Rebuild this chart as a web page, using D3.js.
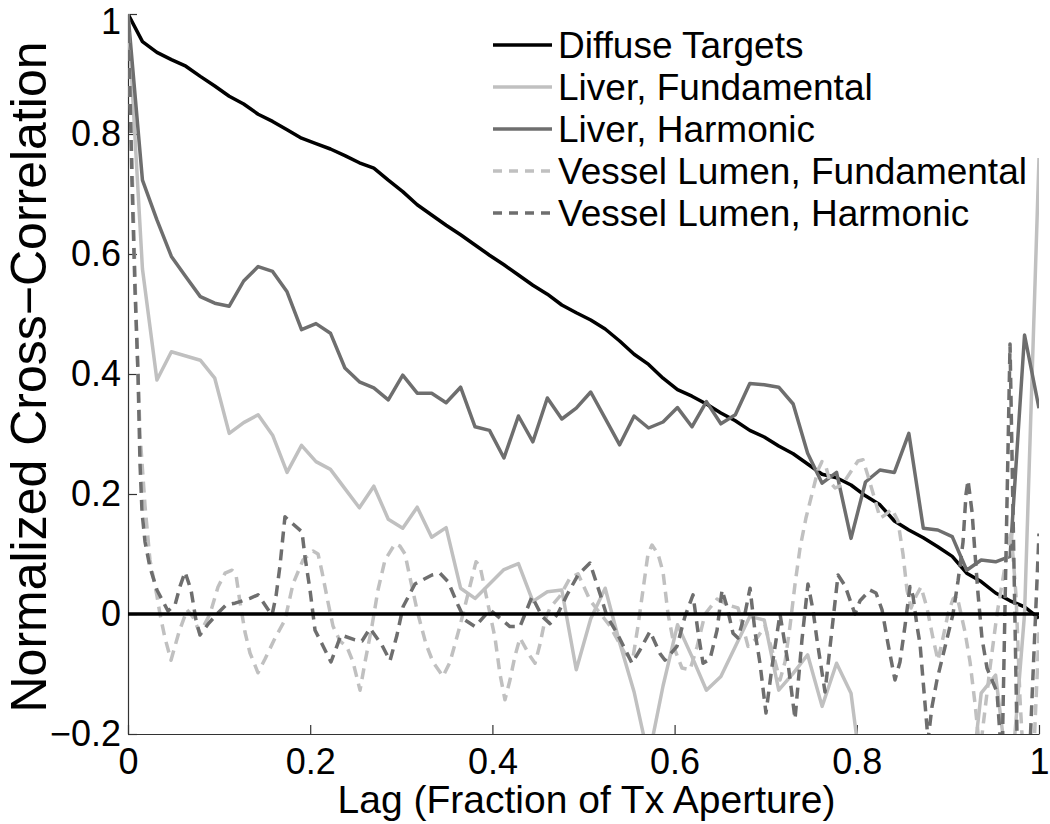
<!DOCTYPE html>
<html>
<head>
<meta charset="utf-8">
<script src="https://cdn.jsdelivr.net/npm/d3@7"></script>
<style>
  body { margin: 0; background: #fff; }
  text { font-family: "Liberation Sans", Arial, sans-serif; }
</style>
</head>
<body>
<script>
//////////data
const seriesNames = ["Diffuse Targets", "Liver, Fundamental", "Liver, Harmonic",
                     "Vessel Lumen, Fundamental", "Vessel Lumen, Harmonic"];
const xTicks = [0, 0.2, 0.4, 0.6, 0.8, 1];
const yTicks = [-0.2, 0, 0.2, 0.4, 0.6, 0.8, 1];

// 64 element lags, 0..63 / 63
const lags = d3.range(64).map(i => i / 63);

const diffuse = [1.0, 0.954, 0.936, 0.924, 0.913, 0.896, 0.88, 0.863, 0.85, 0.833,
  0.821, 0.807, 0.793, 0.784, 0.775, 0.764, 0.752, 0.743, 0.723, 0.704,
  0.682, 0.665, 0.648, 0.632, 0.615, 0.598, 0.582, 0.565, 0.548, 0.533,
  0.515, 0.502, 0.49, 0.475, 0.455, 0.433, 0.416, 0.393, 0.374, 0.363,
  0.35, 0.335, 0.322, 0.306, 0.295, 0.28, 0.267, 0.25, 0.233, 0.227,
  0.215, 0.197, 0.182, 0.155, 0.14, 0.127, 0.112, 0.096, 0.068, 0.054,
  0.035, 0.022, 0.012, -0.007];

const liverFund = [1.0, 0.575, 0.39, 0.437, 0.43, 0.423, 0.393, 0.301, 0.319, 0.332,
  0.298, 0.236, 0.281, 0.254, 0.241, 0.209, 0.177, 0.213, 0.158, 0.143,
  0.178, 0.128, 0.144, 0.043, 0.026, 0.05, 0.074, 0.084, 0.021, 0.037,
  0.04, -0.093, -0.008, 0.043, -0.048, -0.13, -0.24, -0.12, -0.018, -0.071,
  -0.127, -0.104, -0.054, -0.004, -0.01, -0.127, -0.099, -0.068, -0.154, -0.082,
  -0.132, -0.32, -0.26, -0.21, -0.3, -0.35, -0.3, -0.28, -0.35, -0.132,
  -0.102, -0.3, 0.0, 0.76];

const liverHarm = [1.0, 0.723, 0.657, 0.596, 0.562, 0.529, 0.518, 0.513, 0.555, 0.579,
  0.571, 0.537, 0.474, 0.484, 0.468, 0.41, 0.387, 0.377, 0.357, 0.398,
  0.368, 0.368, 0.352, 0.378, 0.312, 0.306, 0.26, 0.33, 0.287, 0.36,
  0.325, 0.343, 0.37, 0.326, 0.282, 0.33, 0.31, 0.32, 0.344, 0.312,
  0.354, 0.317, 0.332, 0.384, 0.382, 0.378, 0.35, 0.268, 0.218, 0.236,
  0.126, 0.22, 0.24, 0.236, 0.301, 0.143, 0.14, 0.129, 0.073, 0.09,
  0.087, 0.096, 0.465, 0.343];

// vessel lumen curves are sampled finer, read as (lag, value) vertices
const vlFundLag = [0, 0.0044, 0.0088, 0.0132, 0.0187, 0.0241, 0.0318, 0.0351, 0.0406, 0.0472,
  0.056, 0.0648, 0.0713, 0.079, 0.09, 0.0988, 0.1065, 0.1142, 0.1186, 0.1229,
  0.1284, 0.1339, 0.1427, 0.1504, 0.1614, 0.1723, 0.1811, 0.1921, 0.2031, 0.2086,
  0.213, 0.2195, 0.225, 0.2327, 0.2404, 0.247, 0.2547, 0.2602, 0.2678, 0.2744,
  0.2821, 0.2931, 0.2986, 0.3041, 0.3096, 0.3183, 0.3271, 0.3348, 0.3458, 0.3535,
  0.3644, 0.371, 0.3776, 0.382, 0.3864, 0.3919, 0.3974, 0.4029, 0.4083, 0.4138,
  0.4193, 0.4248, 0.4303, 0.4413, 0.4468, 0.4523, 0.4577, 0.4632, 0.4742, 0.4852,
  0.494, 0.5071, 0.5291, 0.5455, 0.5543, 0.5598, 0.5653, 0.5708, 0.5752, 0.5818,
  0.5873, 0.5928, 0.6004, 0.6081, 0.6169, 0.6246, 0.6334, 0.6466, 0.6586, 0.6696,
  0.6806, 0.6905, 0.6992, 0.7069, 0.7157, 0.7212, 0.7267, 0.7322, 0.7377, 0.7442,
  0.7508, 0.7574, 0.7618, 0.7662, 0.7706, 0.7761, 0.7838, 0.7925, 0.8013, 0.8068,
  0.8123, 0.82, 0.8255, 0.831, 0.8386, 0.8452, 0.8507, 0.8551, 0.8595, 0.865,
  0.8705, 0.8771, 0.8836, 0.8891, 0.8946, 0.9001, 0.9056, 0.91, 0.9144, 0.9188,
  0.9243, 0.9298, 0.9352, 0.9407, 0.9462, 0.9539, 0.9616, 0.9693, 0.9748, 0.9791,
  0.9835, 0.9923, 1.0];
const vlFund = [1.0, 0.75, 0.5, 0.3, 0.18, 0.09, 0.03, 0.0, -0.04, -0.077,
  -0.03, 0.007, -0.005, -0.032, 0.0, 0.045, 0.068, 0.073, 0.065, 0.02,
  -0.03, -0.065, -0.098, -0.075, -0.04, -0.01, 0.05, 0.09, 0.105, 0.1,
  0.07, 0.02, -0.02, -0.045, -0.055, -0.08, -0.127, -0.08, -0.02, 0.04,
  0.09, 0.117, 0.113, 0.1, 0.06, 0.0, -0.05, -0.08, -0.104, -0.08,
  -0.02, 0.02, 0.06, 0.087, 0.08, 0.04, 0.0, -0.04, -0.1, -0.143,
  -0.11, -0.07, -0.04, -0.07, -0.082, -0.05, -0.01, 0.01, 0.03, 0.06,
  0.067, 0.023, -0.02, -0.066, -0.073, -0.02, 0.04, 0.1, 0.115, 0.1,
  0.07, 0.0, -0.06, -0.09, -0.093, -0.055, 0.0, 0.025, 0.015, 0.01,
  -0.054, -0.04, -0.02, -0.06, -0.11, -0.08, -0.02, 0.05, 0.11, 0.16,
  0.2, 0.24, 0.254, 0.245, 0.22, 0.21, 0.215, 0.235, 0.255, 0.257,
  0.23, 0.19, 0.16, 0.165, 0.175, 0.155, 0.1, 0.04, 0.01, 0.03,
  0.045, 0.01, -0.04, -0.077, -0.04, 0.0, 0.025, 0.03, 0.0, -0.03,
  -0.08, -0.15, -0.23, -0.16, -0.09, 0.0, 0.07, 0.14, 0.03, -0.14,
  -0.26, -0.3, -0.03];

const vlHarmLag = [0, 0.0022, 0.0044, 0.0077, 0.011, 0.0132, 0.0154, 0.0187, 0.0241, 0.0318,
  0.0439, 0.0516, 0.0571, 0.0626, 0.0692, 0.0746, 0.079, 0.0878, 0.0977, 0.1076,
  0.1174, 0.1339, 0.1427, 0.1504, 0.1581, 0.1625, 0.1668, 0.1723, 0.1811, 0.191,
  0.1943, 0.1998, 0.2053, 0.213, 0.2228, 0.2338, 0.2492, 0.2569, 0.2656, 0.2788,
  0.2876, 0.2953, 0.3019, 0.315, 0.3337, 0.3425, 0.3513, 0.3622, 0.3699, 0.3809,
  0.3974, 0.4193, 0.4303, 0.4435, 0.4545, 0.4632, 0.472, 0.4819, 0.494, 0.5071,
  0.5181, 0.5258, 0.5368, 0.5532, 0.562, 0.573, 0.584, 0.5895, 0.6026, 0.6114,
  0.6202, 0.6257, 0.6312, 0.6389, 0.6466, 0.6521, 0.6575, 0.6641, 0.6696, 0.6773,
  0.6828, 0.6883, 0.6937, 0.7003, 0.7069, 0.7157, 0.7245, 0.7322, 0.7398, 0.7464,
  0.7519, 0.7563, 0.7651, 0.7794, 0.7871, 0.798, 0.8035, 0.8145, 0.8211, 0.8277,
  0.8343, 0.8419, 0.8474, 0.8529, 0.8584, 0.8617, 0.8661, 0.8694, 0.8727, 0.8782,
  0.8825, 0.888, 0.8968, 0.9056, 0.9111, 0.9166, 0.9199, 0.9221, 0.9265, 0.9298,
  0.933, 0.9374, 0.9429, 0.9484, 0.9539, 0.9594, 0.9682, 0.977, 0.9879, 1.0];
const vlHarm = [1.0, 0.87, 0.72, 0.54, 0.4, 0.25, 0.17, 0.12, 0.078, 0.04,
  0.005, 0.015, 0.046, 0.07, 0.04, -0.01, -0.035, -0.017, 0.0, 0.015,
  0.018, 0.026, 0.032, 0.015, -0.002, 0.03, 0.08, 0.162, 0.15, 0.137,
  0.095, 0.04, -0.027, -0.05, -0.08, -0.035, -0.043, -0.045, -0.024, -0.052,
  -0.078, -0.035, 0.012, 0.05, 0.065, 0.068, 0.054, 0.015, -0.01, -0.021,
  0.007, -0.021, -0.021, 0.029, -0.004, -0.016, 0.001, 0.032, 0.065, 0.085,
  0.034, -0.004, -0.032, -0.082, -0.06, -0.029, -0.066, -0.077, -0.054, -0.004,
  0.032, -0.03, -0.082, -0.075, -0.027, 0.04, 0.012, -0.032, -0.04, 0.001,
  0.043, -0.03, -0.082, -0.165, -0.088, 0.0, -0.082, -0.175, -0.043, 0.05,
  0.007, -0.043, -0.13, 0.065, 0.047, 0.0, 0.022, 0.04, 0.035, 0.007,
  -0.05, -0.11, -0.08, -0.02, 0.046, 0.03, -0.02, -0.05, -0.11, -0.21,
  -0.155, -0.11, -0.055, 0.0, 0.055, 0.12, 0.2, 0.223, 0.17, 0.1,
  0.035, -0.04, -0.09, -0.11, -0.13, -0.25, 0.45, -0.3, -0.3, 0.134];

//////////configuration
const width = 1050;
const height = 824;
const plotLeft = 128, plotRight = 1039, plotTop = 14, plotBottom = 734;
const tickFont = 36;
const xTitleFont = 39;
const yTitleFont = 50;
const legendFont = 37;
const colors = ["#000000", "#c0c0c0", "#6e6e6e", "#c0c0c0", "#6e6e6e"];
const dashes = [null, null, null, "11,7", "11,7"];

const series = [
  lags.map((x, i) => [x, diffuse[i]]),
  lags.map((x, i) => [x, liverFund[i]]),
  lags.map((x, i) => [x, liverHarm[i]]),
  vlFundLag.map((x, i) => [x, vlFund[i]]),
  vlHarmLag.map((x, i) => [x, vlHarm[i]])
];

const x = d3.scaleLinear().domain([0, 1]).range([plotLeft, plotRight]);
const y = d3.scaleLinear().domain([-0.2, 1]).range([plotBottom, plotTop]);
const fmt = d3.format("~g");

const svg = d3.select("body").append("svg")
  .attr("width", width)
  .attr("height", height);

svg.append("defs").append("clipPath").attr("id", "plotClip")
  .append("rect")
  .attr("x", plotLeft).attr("y", plotTop)
  .attr("width", plotRight - plotLeft).attr("height", plotBottom - plotTop);

// axes, ticks pointing inward like matlab
const yAxis = svg.append("g")
  .attr("transform", `translate(${plotLeft},0)`)
  .call(d3.axisLeft(y).tickValues(yTicks).tickFormat(fmt)
    .tickSizeInner(-9).tickSizeOuter(0).tickPadding(7));
const xAxis = svg.append("g")
  .attr("transform", `translate(0,${plotBottom})`)
  .call(d3.axisBottom(x).tickValues(xTicks).tickFormat(fmt)
    .tickSizeInner(-9).tickSizeOuter(0).tickPadding(14));

[yAxis, xAxis].forEach(a => {
  a.select(".domain").attr("stroke", "#333").attr("stroke-width", 1.2);
  a.selectAll(".tick line").attr("stroke", "#333").attr("stroke-width", 1.2);
  a.selectAll(".tick text")
    .attr("fill", "#000")
    .style("font-size", tickFont + "px")
    .style("font-family", "Liberation Sans, Arial, sans-serif");
});

// keep the top "1" inside the page
yAxis.selectAll(".tick text")
  .filter(d => d === 1)
  .attr("dy", "0.54em");

// lines
const line = d3.line()
  .x(d => x(d[0]))
  .y(d => y(d[1]));

const plots = svg.append("g").attr("clip-path", "url(#plotClip)");

plots.selectAll("path.series")
  .data(series)
  .join("path")
    .attr("class", "series")
    .attr("d", line)
    .attr("fill", "none")
    .attr("stroke", (d, i) => colors[i])
    .attr("stroke-width", 3.5)
    .attr("stroke-linejoin", "round")
    .attr("stroke-dasharray", (d, i) => dashes[i]);

// zero reference line
plots.append("line")
  .attr("x1", x(0)).attr("x2", x(1))
  .attr("y1", y(0)).attr("y2", y(0))
  .attr("stroke", "#000")
  .attr("stroke-width", 3.5);

// titles
svg.append("text")
  .attr("x", (plotLeft + plotRight) / 2 + 3)
  .attr("y", 813)
  .attr("text-anchor", "middle")
  .style("font-size", xTitleFont + "px")
  .text("Lag (Fraction of Tx Aperture)");

svg.append("text")
  .attr("transform", `translate(46,${(plotTop + plotBottom) / 2 + 3}) rotate(-90)`)
  .attr("text-anchor", "middle")
  .style("font-size", yTitleFont + "px")
  .text("Normalized Cross\u2212Correlation");

// legend
const legend = svg.append("g")
  .attr("transform", "translate(493,45)");

const rows = legend.selectAll("g")
  .data(seriesNames)
  .join("g")
    .attr("transform", (d, i) => `translate(0,${i * 42})`);

rows.append("line")
  .attr("x1", 0).attr("x2", 59)
  .attr("y1", 0).attr("y2", 0)
  .attr("stroke", (d, i) => colors[i])
  .attr("stroke-width", 3.5)
  .attr("stroke-dasharray", (d, i) => dashes[i] ? "9,7" : null);

rows.append("text")
  .attr("x", 65)
  .attr("dy", "0.35em")
  .style("font-size", legendFont + "px")
  .text(d => d);
</script>
</body>
</html>
